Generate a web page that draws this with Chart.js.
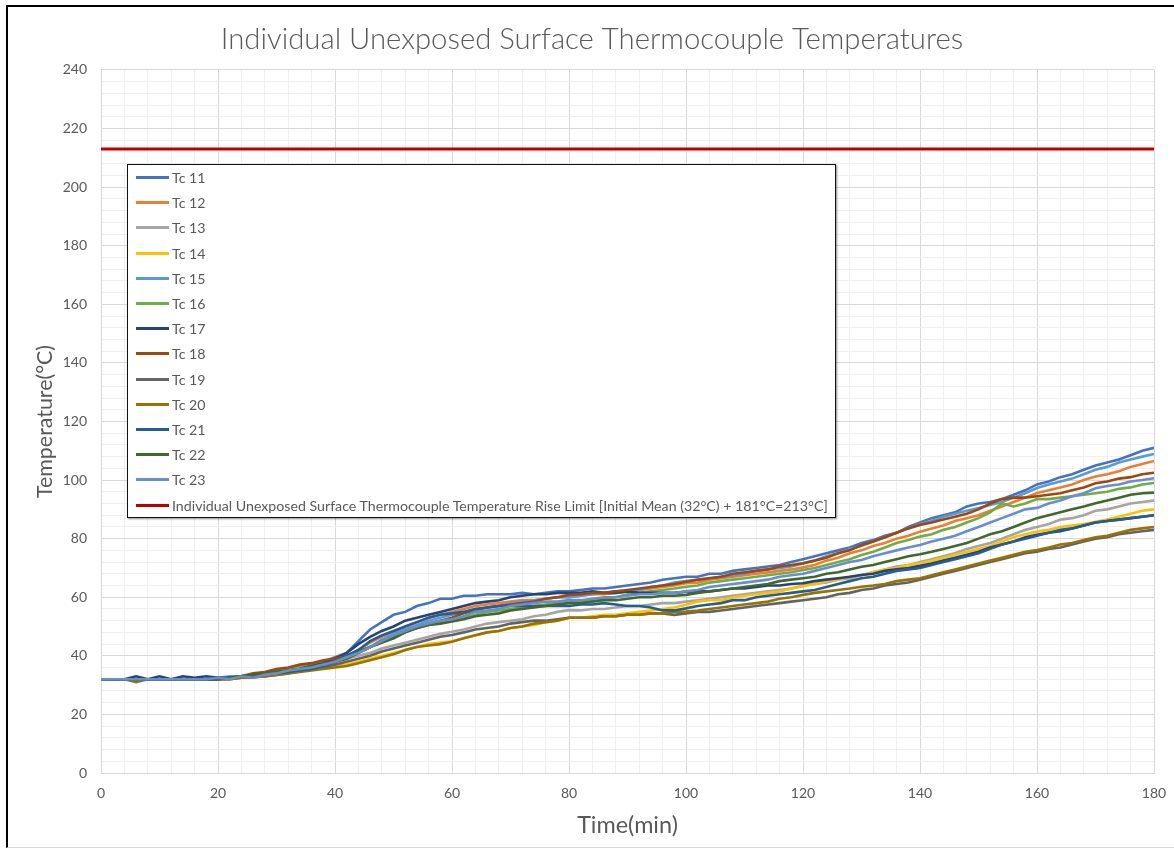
<!DOCTYPE html>
<html>
<head>
<meta charset="utf-8">
<script src="https://cdn.jsdelivr.net/npm/chart.js@4.4.1/dist/chart.umd.min.js"></script>
<style>
  html, body { margin: 0; padding: 0; background: #fff; }
  #wrap { position: relative; width: 1174px; height: 850px; overflow: hidden; background: #fff; }
  #c { position: absolute; left: 0; top: 0; }
  #frame { position: absolute; left: 6px; top: 5px; width: 1170px; height: 843px;
           border-left: 2px solid #000; border-top: 2px solid #000; border-bottom: 1px solid #d9d9d9; box-sizing: border-box; pointer-events: none; }
  #legend { position: absolute; left: 127px; top: 164px; width: 709px; height: 354px; box-sizing: border-box;
            border: 1.5px solid #111; background: #fff; box-shadow: 1px 1px 2px rgba(0,0,0,0.45);
            font-family: Lato, "Open Sans", sans-serif; font-size: 14.2px; color: #595959; }
  .item { position: relative; height: 25.2px; display: flex; align-items: center; white-space: nowrap; }
  .swatch { width: 33px; height: 3px; margin-left: 8px; margin-right: 3px; }
</style>
</head>
<body>
<div id="wrap">
  <canvas id="c" width="1174" height="850"></canvas>
  <div id="frame"></div>
  <div id="legend"></div>
</div>
<script>
// ---------------- data ----------------
const TITLE = "Individual Unexposed Surface Thermocouple Temperatures";
const X_TITLE = "Time(min)";
const Y_TITLE = "Temperature(°C)";
const LIMIT_LABEL = "Individual Unexposed Surface Thermocouple Temperature Rise Limit [Initial Mean (32°C) + 181°C=213°C]";
const LIMIT_VALUE = 213;
const X_RANGE = [0, 180];
const Y_RANGE = [0, 240];

const TIME = [
  0,2,4,6,8,10,12,14,16,18,
  20,22,24,26,28,30,32,34,36,38,
  40,42,44,46,48,50,52,54,56,58,
  60,62,64,66,68,70,72,74,76,78,
  80,82,84,86,88,90,92,94,96,98,
  100,102,104,106,108,110,112,114,116,118,
  120,122,124,126,128,130,132,134,136,138,
  140,142,144,146,148,150,152,154,156,158,
  160,162,164,166,168,170,172,174,176,178,
  180];

const SERIES_NAMES = ["Tc 11","Tc 12","Tc 13","Tc 14","Tc 15","Tc 16","Tc 17","Tc 18","Tc 19","Tc 20","Tc 21","Tc 22","Tc 23"];
const SERIES_COLORS = ["#4472C4","#ED7D31","#A5A5A5","#FFC000","#5B9BD5","#70AD47","#264478","#9E480E","#636363","#997300","#255E91","#43682B","#698ED0"];
const LIMIT_COLOR = "#C00000";

const TC11 = [
  32,32,32,32,32,32,32,32,32,32,
  32.5,32.5,33,33.5,34,34.5,35,36,37,38,
  39.5,41,45,49,51.5,54,55,57,58,59.5,
  59.5,60.5,60.5,61,61,61,61.5,61,61.5,62,
  62,62.5,63,63,63.5,64,64.5,65,66,66.5,
  67,67,68,68,69,69.5,70,70.5,71,72,
  73,74,75,76,77,78.5,79.5,81,82,84,
  85.5,87,88,89,91,92,92.5,93.5,95,96.5,
  98.5,99.5,101,102,103.5,105,106,107,108.5,110,
  111];
const TC12 = [
  32,32,32,32,32,32,32,32,32,32,
  32,32.5,33,33.5,34,35,35.5,36,37,37.5,
  38.5,40,42,44.5,46.5,48,50,51.5,53,54,
  55,56,57,57.5,58,58.5,59,59,59.5,60,
  60,60.5,61,61,61.5,62,62.5,63,63.5,64,
  64.8,65,66,66.5,67,67.5,68,68.5,69,69.5,
  70.2,71,72.5,73.5,75,76,77.5,78.5,80,81,
  82.4,83.5,84.5,86,87,88,89.5,91,92.5,94,
  95.6,96.5,97.5,98.5,100,101.2,102,103,104.5,105.5,
  106.5];
const TC13 = [
  32,32,32,32,32,32,32,32,32,32,
  32,32.5,33,33,33.5,34,35,35.5,36,37,
  38,39,40,41,42.5,43.5,44.5,45.5,46.5,47.5,
  48.2,49,50,51,51.5,52,52.5,53.5,54,55,
  55.6,55.5,56,56,56.5,57,57,57.5,58,58,
  58.5,59,59.5,60,60.5,61,61.5,62,62.5,63,
  64,64.5,65,66,66.5,67.6,68.5,69.5,70.5,71,
  72,73,74,75,76.5,77.5,78.5,80,81.5,83,
  84,85,86.5,87,88,89.5,90,91,92,92.5,
  93];
const TC14 = [
  32,32,32,32,32,32,32,32,32,32,
  32,32,32.5,33,33,34,34.5,35,35.5,36,
  36.5,37,38,39,40,41,42,43,44,44.5,
  45,46,47,48,48.5,49.5,50,50.5,51.5,52,
  53,53,53.5,54,54,54.5,55,55.5,56,56.5,
  57.4,58.5,59,59,60,60.5,61,61.5,62,63,
  63.8,64.5,65.5,66,67,67.5,68.5,69.5,70,71,
  71.6,72.5,73.5,74.5,75.5,76.5,77.5,79,80.5,81.5,
  82.4,83,84,84.5,85,85.8,86.5,87.5,88.5,89.5,
  90];
const TC15 = [
  32,32,32,32,32,32,32,32,32,32,
  32.5,33,33,33.5,34,35,35.5,36.5,37,38,
  38.5,40,41,43,45.5,47.5,49,50.5,52,53,
  54,55,56,56.5,57,58,58.5,59,59.5,60,
  60,60.5,61,61.5,62,62,62.5,63.5,64,65,
  65.5,66,66.5,67,67.5,68,69,69.5,70,70.5,
  71.5,72.5,74,75,76.5,77.5,79,80.5,82,83.5,
  85,86,87.5,88.5,89.5,90.5,91.5,92.5,94,95.5,
  97.3,98.5,99.5,100.5,102,103.5,104.5,106,107,108,
  108.9];
const TC16 = [
  32,32,32,32,32,32,32,32,32,32,
  32,32.5,33,33.5,34,34.5,35.5,36,37,37.5,
  38.5,39.5,41,43,44.5,46,48,49.5,50.5,51.5,
  52.2,53,54,55,55.5,56,56.5,57,57.5,58,
  58.5,58.5,59,59.5,60,61,61.5,62,62.5,63,
  63.6,64,65,65.5,66,66.5,67,67.5,68,68.5,
  69.3,70,71,72,73,74.4,75.5,77,78.5,79.5,
  80.7,81.5,83,84,85.5,87,89,92,91,92,
  93.5,93.5,94,94.5,95,95.5,96,97,97.5,98.5,
  99];
const TC17 = [
  32,32,32,33,32,33,32,33,32.5,33,
  32.5,32.5,33,33.5,34,34.5,35,35.5,36.5,37.5,
  39,41,44,46.5,48.5,50,52,53,54,55,
  56,57,58,58.5,59,60,60.5,61,61,61.5,
  61.5,61.5,62,61.5,61.5,62,61.5,61.5,61.5,61.5,
  61.9,62,62,62.5,63,63,63.5,64,64,64.5,
  64.8,65.5,66,66.5,67,67.6,68,69,69.5,70,
  70.7,71.5,72.5,73.5,74.5,75.5,77,78,79,80.5,
  81.3,82,82.5,83.5,84.5,85.5,86,86.5,87,87.5,
  88];
const TC18 = [
  32,32,32,32,32,32,32,32,32,32,
  32,32.5,33,34,34.5,35.5,36,37,37.5,38.5,
  39,40,41.5,43,45,46.5,48.5,49.5,51,52,
  53,54.5,55.5,56.5,57,57.5,58,58.5,59.5,60,
  60.8,61,61.5,61.5,62,62.5,63,63.5,64,64.5,
  65.3,66,66.5,67,68,68.5,69,69.5,70.5,71,
  71.6,72.5,73.5,75,76,77.8,79,80.5,82,83.5,
  84.7,85.5,86.5,87.5,88.5,90,92,93.5,94,94,
  94.5,95,95.5,96.5,97.5,98.9,99.5,100.5,101,102,
  102.5];
const TC19 = [
  32,32,32,32,32,32,32,32,32,32,
  32,32,32.5,33,33,33.5,34,35,35.5,36,
  37,38,39,40,41.5,42.5,43.5,44.5,45.5,46.5,
  47.1,48,49,49.5,50,51,51.5,52,52,52.5,
  53,53,53,53.5,53.5,54,54,54.5,54.5,54,
  54.5,55,55,55.5,56,56.5,57,57.5,58,58.5,
  59,59.5,60,61,61.5,62.5,63,64,64.5,65,
  66,67,68,69,70,71,72,73,74,75,
  75.5,76.5,77,78,79,80,80.5,81.5,82,82.5,
  83];
const TC20 = [
  32,32,32,31,32,32,32,32,32,32,
  32,32,32.5,32.5,33,33.5,34,34.5,35,35.5,
  36,36.5,37.5,38.5,39.5,40.5,42,43,43.5,44,
  44.8,46,47,48,48.5,49.5,50,51,51.5,52,
  53,53,53,53.5,53.5,54,54,54.5,54.5,55,
  55.1,55.5,56,56.5,57,57.5,58,58.5,59.5,60,
  60.8,61.5,62,62.5,63,63.6,64,64.5,65.5,66,
  66.5,67.5,68.5,69.5,70.5,71.5,72.5,73.5,74.5,75.5,
  76.1,77,78,78.5,79.5,80.5,81,82,83,83.5,
  84];
const TC21 = [
  32,32,32,32,32,32,32,32,32,32,
  32,32.5,33,33,33.5,34,34.5,35,35.5,36.5,
  38,40,42,45,47,48.5,50,51.5,53,54,
  54.5,55,56,56.5,57,57,57,57,57,57,
  57,57.5,57.5,58,57.5,57,57,56.5,55.5,55.5,
  56.2,57,57.5,58,59,59,60,60.5,61,61.5,
  62,62.5,63.5,64.5,65.5,66.5,67,68,69,69.5,
  70,71,72,73,74,75,76.5,78,79,80,
  81,82,83,83.5,84.5,85.5,86,86.5,87,87.5,
  88];
const TC22 = [
  32,32,32,32,32,32,32,32,32,32,
  32,32.5,33,33.5,34,34.5,35,35.5,36.5,37,
  38,39,41,43,44.5,46,48,49.5,50.5,51,
  51.7,52.5,53.5,54,54.5,55.5,56,56.5,57,57.5,
  58,58,58.5,59,59,59.5,60,60,60.5,60.5,
  60.8,61.5,62,62.5,63,63.5,64,64.5,65.5,66,
  66.5,67,68,68.5,69.5,70.4,71,72,73,74,
  74.7,75.5,76.5,77.5,78.5,80,81.5,82.5,84,85.5,
  87,88,89,90,91,92.1,93,94,95,95.5,
  95.7];
const TC23 = [
  32,32,32,32,32,32,32,32,32,32,
  32.5,32,33,32.5,33.5,34,35,35.5,36,37,
  38,39.5,41,43,45,47,48.5,50,51,52,
  52.5,53.5,55,55.5,56,57,57.5,58,58.5,58.5,
  59,59,59.5,60,60,60.5,61,61,61.5,61.5,
  62,62.5,63.5,64,64.5,65,65.5,66,67,67.5,
  68,69,70,71,72,72.7,74,75,76,77,
  77.8,79,80,81,82.5,84,85.5,87,88.5,90,
  90.5,92,93,94.5,95.5,97.2,98,98.5,99.5,100,
  100.6];

const SERIES_VALUES = [TC11, TC12, TC13, TC14, TC15, TC16, TC17, TC18, TC19, TC20, TC21, TC22, TC23];

// ---------------- chart ----------------
const FONT = 'Lato, "Open Sans", sans-serif';
const TEXT = '#595959';
const N = SERIES_NAMES.length;

const datasets = SERIES_NAMES.map((name, i) => ({
  label: name,
  data: TIME.map((t, k) => ({ x: t, y: SERIES_VALUES[i][k] })),
  borderColor: SERIES_COLORS[i],
  backgroundColor: SERIES_COLORS[i],
  borderWidth: 2.6,
  pointRadius: 0,
  tension: 0,
  fill: false,
  order: N - i + 1
}));
datasets.push({
  label: LIMIT_LABEL,
  data: [{ x: X_RANGE[0], y: LIMIT_VALUE }, { x: X_RANGE[1], y: LIMIT_VALUE }],
  borderColor: LIMIT_COLOR,
  backgroundColor: LIMIT_COLOR,
  borderWidth: 3,
  pointRadius: 0,
  fill: false,
  order: 0
});

const gridColor = (ctx) => (ctx.tick && Math.round(ctx.tick.value) % 20 === 0) ? '#d9d9d9' : '#f0f0f0';

new Chart(document.getElementById('c'), {
  type: 'line',
  data: { datasets },
  options: {
    responsive: false,
    animation: false,
    events: [],
    layout: { padding: { left: 30, right: 20, top: 0, bottom: 0 } },
    plugins: {
      legend: { display: false },
      tooltip: { enabled: false },
      title: {
        display: true,
        text: TITLE,
        color: TEXT,
        font: { family: FONT, size: 29.3, weight: 300, lineHeight: 1.2 },
        padding: { top: 22.4, bottom: 12.4 }
      }
    },
    scales: {
      x: {
        type: 'linear',
        min: X_RANGE[0], max: X_RANGE[1],
        afterFit: (s) => { s.height = 77; s.paddingRight = 20; s.paddingLeft = 0; },
        ticks: {
          stepSize: 4, autoSkip: false, maxRotation: 0,
          color: TEXT, font: { family: FONT, size: 14 }, padding: 12,
          callback: (v) => (Math.round(v) % 20 === 0 ? String(v) : '')
        },
        grid: { color: gridColor, lineWidth: 1, drawTicks: false },
        border: { color: '#d9d9d9', width: 1 },
        title: {
          display: true, text: X_TITLE, color: TEXT,
          font: { family: FONT, size: 23.4, lineHeight: 1.2 },
          padding: { top: 0, bottom: 11 }
        }
      },
      y: {
        min: Y_RANGE[0], max: Y_RANGE[1],
        afterFit: (s) => { s.width = 71; },
        ticks: {
          stepSize: 4, autoSkip: false,
          color: TEXT, font: { family: FONT, size: 14 }, padding: 14,
          callback: (v) => (Math.round(v) % 20 === 0 ? String(v) : '')
        },
        grid: { color: gridColor, lineWidth: 1, drawTicks: false },
        border: { color: '#d9d9d9', width: 1 },
        title: {
          display: true, text: Y_TITLE, color: TEXT,
          font: { family: FONT, size: 21.4, lineHeight: 1.2 },
          padding: { top: 2.2, bottom: 0 }
        }
      }
    }
  }
});

// ---------------- legend (HTML, built from the same arrays) ----------------
const legend = document.getElementById('legend');
const legendItems = SERIES_NAMES.map((n, i) => [n, SERIES_COLORS[i]]).concat([[LIMIT_LABEL, LIMIT_COLOR]]);
legendItems.forEach(([name, color]) => {
  const row = document.createElement('div');
  row.className = 'item';
  const sw = document.createElement('span');
  sw.className = 'swatch';
  sw.style.background = color;
  const tx = document.createElement('span');
  tx.textContent = name;
  row.appendChild(sw);
  row.appendChild(tx);
  legend.appendChild(row);
});
</script>
</body>
</html>
